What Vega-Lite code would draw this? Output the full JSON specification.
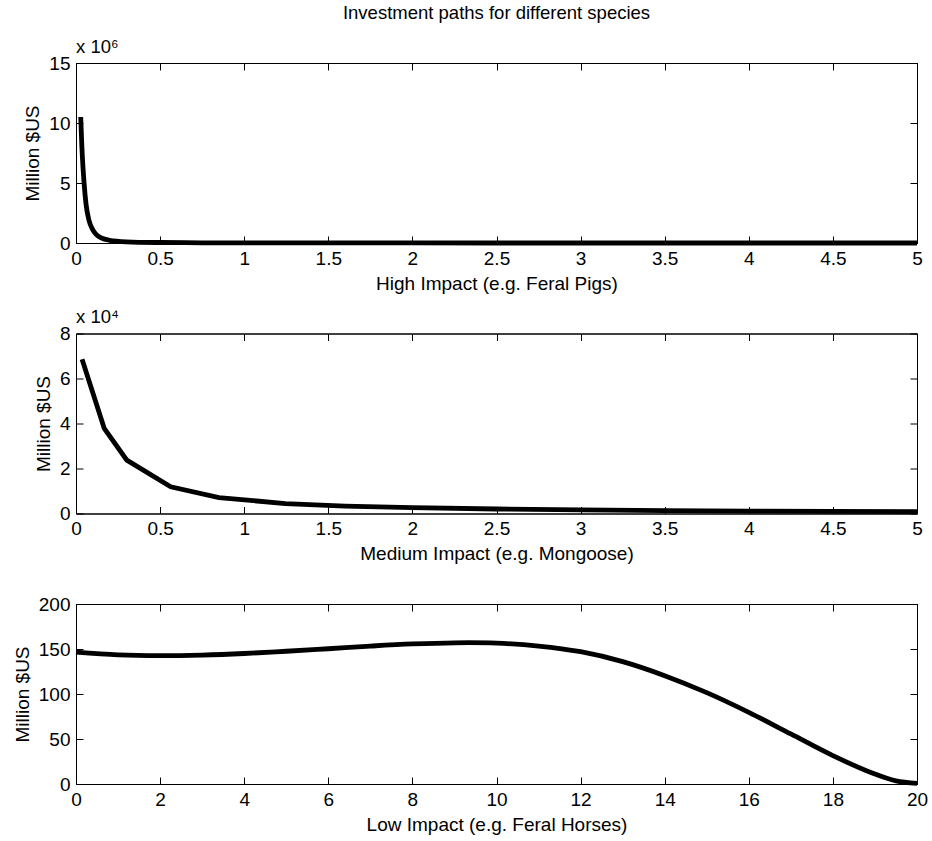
{
  "$schema": "https://vega.github.io/schema/vega-lite/v6.json",
  "background": "white",
  "padding": {"left": 12, "top": 3, "right": 5, "bottom": 3},
  "title": {"text": "Investment paths for different species", "anchor": "middle", "frame": "group", "fontSize": 18.5, "fontWeight": "normal", "font": "Liberation Sans", "color": "black", "offset": 15},
  "config": {
    "font": "Liberation Sans",
    "view": {"stroke": "black", "strokeWidth": 1},
    "axis": {"grid": false, "domainColor": "black", "tickColor": "black", "labelColor": "black", "titleColor": "black", "labelFontSize": 19, "titleFontSize": 19, "titleFontWeight": "normal", "labelFont": "Liberation Sans", "titleFont": "Liberation Sans", "tickSize": -7, "labelPadding": 13, "labelOverlap": false, "labelFlush": false, "titlePadding": 6},
    "title": {"fontSize": 18.5, "fontWeight": "normal", "font": "Liberation Sans", "color": "black"}
  },
  "bounds": "flush",
  "spacing": 90.5,
  "datasets": {
    "high": [
      {"x": 0.028, "y": 10500000}, {"x": 0.035, "y": 8000000}, {"x": 0.042, "y": 6200000}, {"x": 0.048, "y": 5000000},
      {"x": 0.06, "y": 3200000}, {"x": 0.077, "y": 1900000}, {"x": 0.1, "y": 1100000}, {"x": 0.12, "y": 720000},
      {"x": 0.15, "y": 420000}, {"x": 0.2, "y": 220000}, {"x": 0.3, "y": 100000}, {"x": 0.5, "y": 40000},
      {"x": 0.75, "y": 18000}, {"x": 1, "y": 10000}, {"x": 1.5, "y": 5000}, {"x": 2, "y": 3000},
      {"x": 3, "y": 1500}, {"x": 4, "y": 900}, {"x": 5, "y": 600}
    ],
    "medium": [
      {"x": 0.036, "y": 68600}, {"x": 0.168, "y": 37800}, {"x": 0.302, "y": 23700}, {"x": 0.563, "y": 11900},
      {"x": 0.85, "y": 7100}, {"x": 1.245, "y": 4400}, {"x": 1.6, "y": 3300}, {"x": 2, "y": 2600},
      {"x": 2.5, "y": 2000}, {"x": 3, "y": 1600}, {"x": 3.5, "y": 1300}, {"x": 4, "y": 1100},
      {"x": 4.5, "y": 950}, {"x": 5, "y": 800}
    ],
    "low": [
      {"x": 0, "y": 146.5}, {"x": 1, "y": 143.5}, {"x": 2, "y": 142.6}, {"x": 3, "y": 143.3},
      {"x": 4, "y": 145}, {"x": 5, "y": 147.5}, {"x": 6, "y": 150.3}, {"x": 7, "y": 153.2},
      {"x": 8, "y": 155.6}, {"x": 9, "y": 156.9}, {"x": 10, "y": 156.5}, {"x": 11, "y": 153.3},
      {"x": 12, "y": 147}, {"x": 13, "y": 136}, {"x": 14, "y": 120.4}, {"x": 15, "y": 101.5},
      {"x": 16, "y": 79.6}, {"x": 17, "y": 55.6}, {"x": 18, "y": 31.5}, {"x": 19, "y": 11},
      {"x": 19.5, "y": 3.5}, {"x": 20, "y": 0.7}
    ]
  },
  "vconcat": [
    {
      "width": 841, "height": 180,
      "title": {"text": "x 10⁶", "anchor": "start", "frame": "group", "offset": -2},
      "data": {"name": "high"},
      "layer": [
        {
          "mark": {"type": "line", "color": "black", "strokeWidth": 4.8, "interpolate": "monotone"},
          "encoding": {
            "x": {"field": "x", "type": "quantitative", "scale": {"domain": [0, 5], "nice": false}, "axis": {"values": [0, 0.5, 1, 1.5, 2, 2.5, 3, 3.5, 4, 4.5, 5], "format": "~g", "title": "High Impact (e.g. Feral Pigs)"}},
            "y": {"field": "y", "type": "quantitative", "scale": {"domain": [0, 15000000], "nice": false}, "axis": {"values": [0, 5000000, 10000000, 15000000], "labelExpr": "datum.value / 1000000", "title": "Million $US"}}
          }
        },
        {
          "mark": {"type": "line", "opacity": 0},
          "encoding": {
            "x": {"field": "x", "type": "quantitative", "scale": {"domain": [0, 5], "nice": false}, "axis": {"orient": "top", "values": [0, 0.5, 1, 1.5, 2, 2.5, 3, 3.5, 4, 4.5, 5], "labels": false, "title": null}},
            "y": {"field": "y", "type": "quantitative", "scale": {"domain": [0, 15000000], "nice": false}, "axis": {"orient": "right", "values": [0, 5000000, 10000000, 15000000], "labels": false, "title": null}}
          }
        }
      ],
      "resolve": {"axis": {"x": "independent", "y": "independent"}}
    },
    {
      "width": 841, "height": 180,
      "title": {"text": "x 10⁴", "anchor": "start", "frame": "group", "offset": -2},
      "data": {"name": "medium"},
      "layer": [
        {
          "mark": {"type": "line", "color": "black", "strokeWidth": 4.8},
          "encoding": {
            "x": {"field": "x", "type": "quantitative", "scale": {"domain": [0, 5], "nice": false}, "axis": {"values": [0, 0.5, 1, 1.5, 2, 2.5, 3, 3.5, 4, 4.5, 5], "format": "~g", "title": "Medium Impact (e.g. Mongoose)"}},
            "y": {"field": "y", "type": "quantitative", "scale": {"domain": [0, 80000], "nice": false}, "axis": {"values": [0, 20000, 40000, 60000, 80000], "labelExpr": "datum.value / 10000", "title": "Million $US"}}
          }
        },
        {
          "mark": {"type": "line", "opacity": 0},
          "encoding": {
            "x": {"field": "x", "type": "quantitative", "scale": {"domain": [0, 5], "nice": false}, "axis": {"orient": "top", "values": [0, 0.5, 1, 1.5, 2, 2.5, 3, 3.5, 4, 4.5, 5], "labels": false, "title": null}},
            "y": {"field": "y", "type": "quantitative", "scale": {"domain": [0, 80000], "nice": false}, "axis": {"orient": "right", "values": [0, 20000, 40000, 60000, 80000], "labels": false, "title": null}}
          }
        }
      ],
      "resolve": {"axis": {"x": "independent", "y": "independent"}}
    },
    {
      "width": 841, "height": 180,
      "data": {"name": "low"},
      "layer": [
        {
          "mark": {"type": "line", "color": "black", "strokeWidth": 4.8, "interpolate": "catmull-rom"},
          "encoding": {
            "x": {"field": "x", "type": "quantitative", "scale": {"domain": [0, 20], "nice": false}, "axis": {"values": [0, 2, 4, 6, 8, 10, 12, 14, 16, 18, 20], "format": "~g", "title": "Low Impact (e.g. Feral Horses)"}},
            "y": {"field": "y", "type": "quantitative", "scale": {"domain": [0, 200], "nice": false}, "axis": {"values": [0, 50, 100, 150, 200], "title": "Million $US"}}
          }
        },
        {
          "mark": {"type": "line", "opacity": 0},
          "encoding": {
            "x": {"field": "x", "type": "quantitative", "scale": {"domain": [0, 20], "nice": false}, "axis": {"orient": "top", "values": [0, 2, 4, 6, 8, 10, 12, 14, 16, 18, 20], "labels": false, "title": null}},
            "y": {"field": "y", "type": "quantitative", "scale": {"domain": [0, 200], "nice": false}, "axis": {"orient": "right", "values": [0, 50, 100, 150, 200], "labels": false, "title": null}}
          }
        }
      ],
      "resolve": {"axis": {"x": "independent", "y": "independent"}}
    }
  ]
}
